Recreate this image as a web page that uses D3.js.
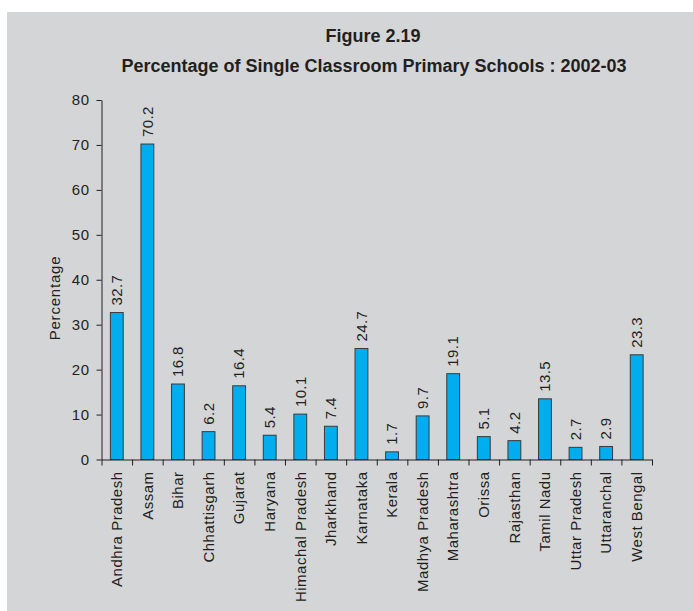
<!DOCTYPE html>
<html>
<head>
<meta charset="utf-8">
<script src="https://cdn.jsdelivr.net/npm/d3@7"></script>
<style>
  body { margin: 0; background: #fff; }
  svg { display: block; font-family: "Liberation Sans", Arial, sans-serif; }
</style>
</head>
<body>
<div id="chart"></div>
<script>
var states = ["Andhra Pradesh", "Assam", "Bihar", "Chhattisgarh", "Gujarat", "Haryana",
  "Himachal Pradesh", "Jharkhand", "Karnataka", "Kerala", "Madhya Pradesh", "Maharashtra",
  "Orissa", "Rajasthan", "Tamil Nadu", "Uttar Pradesh", "Uttaranchal", "West Bengal"];
var values = [32.7, 70.2, 16.8, 6.2, 16.4, 5.4, 10.1, 7.4, 24.7, 1.7, 9.7, 19.1, 5.1, 4.2, 13.5, 2.7, 2.9, 23.3];
var yTicks = [0, 10, 20, 30, 40, 50, 60, 70, 80];

var W = 693, H = 611;
var plot = {left: 101.5, right: 652, top: 100, bottom: 459.5};
var textColor = "#231f20";

var svg = d3.select("#chart").append("svg")
  .attr("width", W)
  .attr("height", H);

// grey panel
svg.append("rect")
  .attr("x", 7).attr("y", 12)
  .attr("width", W - 7).attr("height", H - 12)
  .attr("fill", "#d4d5d7");

var x = d3.scaleBand()
  .domain(states)
  .range([plot.left, plot.right])
  .paddingInner(0.58)
  .paddingOuter(0.29);

// boundaries between categories, for the tick marks
var xEdge = d3.scaleLinear().domain([0, states.length]).range([plot.left, plot.right]);

var y = d3.scaleLinear().domain([0, 80]).range([plot.bottom, plot.top]);

// titles
svg.append("text")
  .attr("x", 373).attr("y", 42)
  .attr("text-anchor", "middle")
  .attr("font-size", 18).attr("font-weight", "bold")
  .attr("fill", textColor)
  .text("Figure 2.19");

svg.append("text")
  .attr("x", 374).attr("y", 72)
  .attr("text-anchor", "middle")
  .attr("font-size", 18).attr("font-weight", "bold")
  .attr("fill", textColor)
  .text("Percentage of Single Classroom Primary Schools : 2002-03");

// bars
svg.selectAll("rect.bar")
  .data(values)
  .enter().append("rect")
  .attr("class", "bar")
  .attr("x", function(d, i) { return x(states[i]); })
  .attr("y", function(d) { return y(d); })
  .attr("width", x.bandwidth())
  .attr("height", function(d) { return plot.bottom - y(d); })
  .attr("fill", "#00aeef")
  .attr("stroke", "#3a3a3a")
  .attr("stroke-width", 1);

// value labels
svg.selectAll("text.val")
  .data(values)
  .enter().append("text")
  .attr("class", "val")
  .attr("transform", function(d, i) {
    return "translate(" + (x(states[i]) + x.bandwidth() / 2) + "," + (y(d) - 7) + ") rotate(-90)";
  })
  .attr("dy", "0.35em")
  .attr("font-size", 15)
  .attr("letter-spacing", 0.4)
  .attr("fill", textColor)
  .text(function(d) { return d.toFixed(1); });

// y axis
var yAxis = svg.append("g")
  .attr("transform", "translate(" + plot.left + ",0)")
  .call(d3.axisLeft(y).tickValues(yTicks).tickSize(5).tickSizeOuter(0).tickPadding(7));

// x axis tick marks at category boundaries
var xAxis = svg.append("g")
  .attr("transform", "translate(0," + plot.bottom + ")")
  .call(d3.axisBottom(xEdge).tickValues(d3.range(states.length + 1))
    .tickFormat("").tickSize(6).tickSizeOuter(0));

// x axis category labels
var xLabels = svg.append("g")
  .attr("transform", "translate(0," + plot.bottom + ")")
  .call(d3.axisBottom(x).tickSize(0).tickSizeOuter(0));
xLabels.select(".domain").remove();
xLabels.selectAll("text")
  .attr("transform", "rotate(-90)")
  .attr("x", -12).attr("y", 0)
  .attr("dy", "0.35em")
  .style("text-anchor", "end");

[yAxis, xAxis, xLabels].forEach(function(g) {
  g.selectAll("text")
    .attr("font-family", "Liberation Sans, Arial, sans-serif")
    .attr("font-size", 15)
    .attr("letter-spacing", 0.5)
    .attr("fill", textColor);
  g.selectAll("line, path").attr("stroke", "#231f20");
});

// y axis title
svg.append("text")
  .attr("transform", "translate(60,298) rotate(-90)")
  .attr("text-anchor", "middle")
  .attr("font-size", 15)
  .attr("letter-spacing", 0.8)
  .attr("fill", textColor)
  .text("Percentage");
</script>
</body>
</html>
